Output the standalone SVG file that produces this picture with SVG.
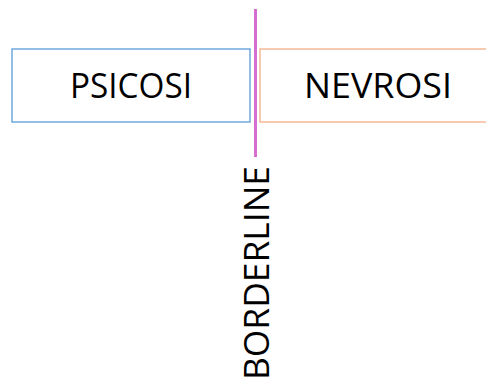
<svg xmlns="http://www.w3.org/2000/svg" width="486" height="385" viewBox="0 0 486 385">
<style>
.lbl{font-family:"Open Sans","Liberation Sans",sans-serif;font-size:34px;fill:#000;}
.box{fill:#fff;stroke-width:1.5;}
</style>
<rect width="486" height="385" fill="#fff"/>
<g id="psicosi">
<rect class="box" x="12" y="49" width="238" height="73" stroke="#6FA8E0"/>
<text class="lbl" x="131" y="97.5" text-anchor="middle" textLength="122" lengthAdjust="spacingAndGlyphs">PSICOSI</text>
</g>
<g id="nevrosi">
<rect class="box" x="260" y="49" width="238" height="73" stroke="#F6B898"/>
<text class="lbl" x="378" y="97.5" text-anchor="middle" textLength="148" lengthAdjust="spacingAndGlyphs">NEVROSI</text>
</g>
<g id="connectors">
<line x1="255.5" y1="9" x2="255.5" y2="157" stroke="#D56FCF" stroke-width="3"/>
</g>
<g id="borderline">
<text class="lbl" transform="translate(268.5,380) rotate(-90)" x="0" y="0" textLength="214" lengthAdjust="spacingAndGlyphs">BORDERLINE</text>
</g>
</svg>
